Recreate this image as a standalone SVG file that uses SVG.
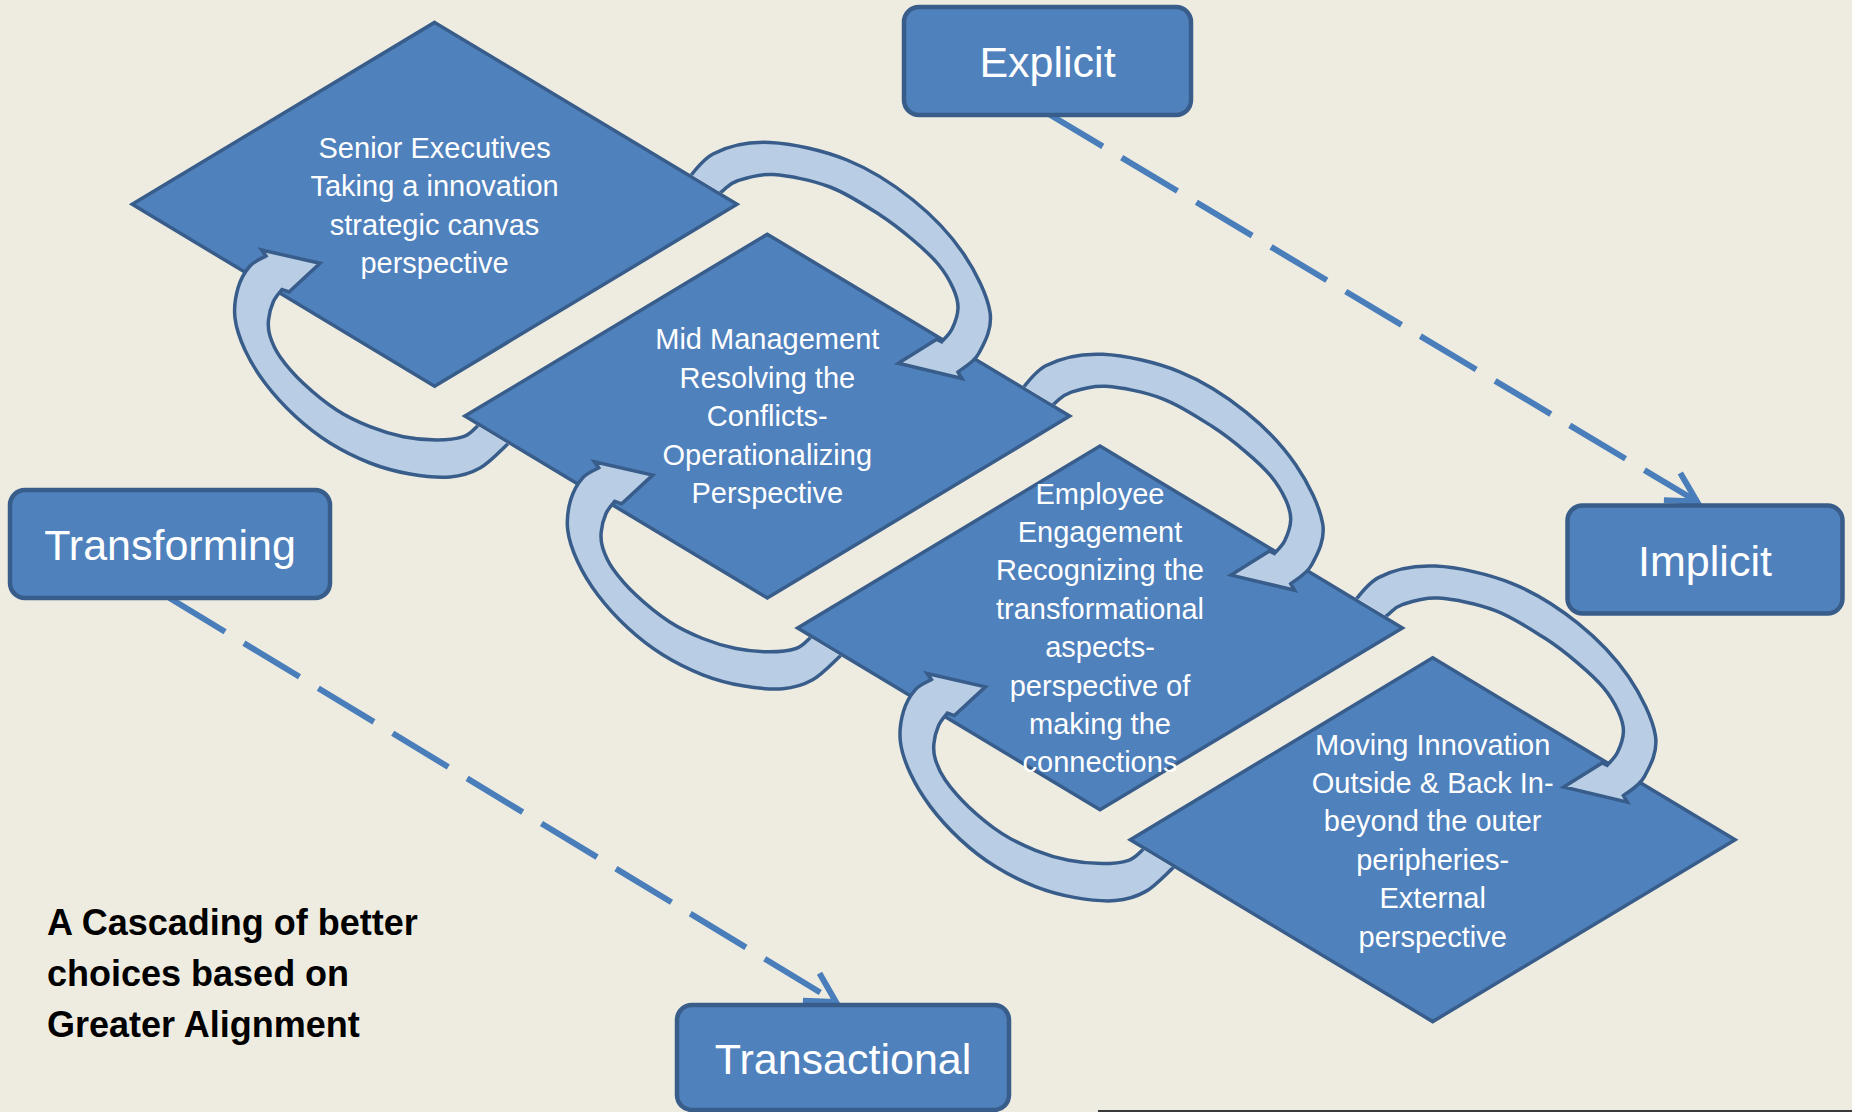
<svg xmlns="http://www.w3.org/2000/svg" xmlns:xlink="http://www.w3.org/1999/xlink" width="1852" height="1112" viewBox="0 0 1852 1112">
<style>
.dia{fill:#4F81BD;stroke:#385D8A;stroke-width:3.5;stroke-linejoin:miter}
.box{fill:#4F81BD;stroke:#385D8A;stroke-width:4.5}
.arc{fill:#B9CDE5;stroke:#385D8A;stroke-width:3.5;stroke-linejoin:miter}
.dash{fill:none;stroke:#4A7EBB;stroke-width:6;stroke-dasharray:65 22}
.dt{font-family:"Liberation Sans",Arial,sans-serif;font-size:29px;fill:#fff;text-anchor:middle}
.bt{font-family:"Liberation Sans",Arial,sans-serif;font-size:43px;fill:#fff;text-anchor:middle}
.note{font-family:"Liberation Sans",Arial,sans-serif;font-size:36px;font-weight:bold;fill:#000}
</style>
<defs>
<marker id="openArrow" markerUnits="userSpaceOnUse" viewBox="-40 -25 50 50" markerWidth="50" markerHeight="50" refX="0" refY="0" orient="auto" overflow="visible">
<path d="M-29,-16 L0,0 L-29,16" fill="none" stroke="#4A7EBB" stroke-width="6" stroke-dasharray="none"/>
</marker>
<path id="arcA" class="arc" d="M680,190 C685.5,184 698,161.9 713,154 C728,146.1 747.7,141.5 770,142.5 C792.3,143.5 823.2,150.4 847,160 C870.8,169.6 893.7,184.5 913,200 C932.3,215.5 950.2,234.3 963,253 C975.8,271.7 987.3,295.3 990,312 C992.7,328.7 984.3,343 979,353 C973.7,363 961.5,368.8 958,372 L962,378.5 L898.3,363.3 L936.7,339.3 L941.7,341.7 C943.4,339.6 949.3,334.6 952,329 C954.7,323.4 957.8,314.8 958,308 C958.2,301.2 956.3,295.3 953,288 C949.7,280.7 944.7,272 938,264 C931.3,256 922.7,248.2 913,240 C903.3,231.8 893.8,223.8 880,215 C866.2,206.2 847.8,193.75 830,187 C812.2,180.25 788.5,175.5 773,174.5 C757.5,173.5 745.5,178.2 737,181 C728.5,183.8 727.3,187.5 722,191.5 C716.7,195.5 707.8,202.75 705,205 Z"/>
<path id="arcB" class="arc" d="M520,431 C517.8,433.3 513.4,438.8 506.7,445 C500,451.2 489.5,462.7 480,468 C470.6,473.3 461.7,476 450,477 C438.3,478 423.3,476.3 410,474 C396.7,471.7 383.3,468.2 370,463 C356.7,457.8 342.5,450.8 330,443 C317.5,435.2 305.8,426 295,416 C284.2,406 273.3,394 265,383 C256.7,372 250,360.8 245,350 C240,339.2 236.2,328.3 235,318 C233.8,307.7 235.5,296.7 238,288 C240.5,279.3 245.3,271.3 250,266 C254.7,260.7 263.3,257.7 266,256 L261.7,250 L320,263.3 L289,292 L282,289.5 C280.55,291.5 275.55,296.6 273.3,301.7 C271.05,306.8 269.05,314.3 268.5,320 C267.95,325.7 268.1,329.9 270,336 C271.9,342.1 274.45,348.8 280,356.7 C285.55,364.6 293.85,374.4 303.3,383.3 C312.75,392.2 325.6,402.8 336.7,410 C347.8,417.2 358.9,422.25 370,426.7 C381.1,431.15 392.2,434.5 403.3,436.7 C414.4,438.9 426.7,440 436.7,440 C446.7,440 456.6,438.9 463.3,436.7 C470,434.5 472.25,430.8 476.7,426.7 C481.15,422.6 487.8,414.45 490,412 Z"/>
<mask id="mD1" maskUnits="userSpaceOnUse" x="0" y="0" width="1852" height="1112">
<rect width="1852" height="1112" fill="#fff"/>
<polygon points="434.6,22.4 737,204.3 434.6,386.2 132.2,204.3" fill="#000" stroke="#000" stroke-width="3.5"/>
</mask>
<mask id="mD2" maskUnits="userSpaceOnUse" x="0" y="0" width="1852" height="1112">
<rect width="1852" height="1112" fill="#fff"/>
<polygon points="767.3,234.2 1069.7,416.1 767.3,598 464.9,416.1" fill="#000" stroke="#000" stroke-width="3.5"/>
</mask>
<mask id="mD3" maskUnits="userSpaceOnUse" x="0" y="0" width="1852" height="1112">
<rect width="1852" height="1112" fill="#fff"/>
<polygon points="1100,446 1402.4,627.9 1100,809.8 797.6,627.9" fill="#000" stroke="#000" stroke-width="3.5"/>
</mask>
<mask id="mD4" maskUnits="userSpaceOnUse" x="0" y="0" width="1852" height="1112">
<rect width="1852" height="1112" fill="#fff"/>
<polygon points="1432.7,657.8 1735.1,839.7 1432.7,1021.6 1130.3,839.7" fill="#000" stroke="#000" stroke-width="3.5"/>
</mask>
</defs>
<rect width="1852" height="1112" fill="#EEECE1"/>
<line x1="1098" y1="1111" x2="1852" y2="1111" stroke="#3A3A3A" stroke-width="2"/>

<g id="node-senior">
<polygon class="dia" points="434.6,22.4 737,204.3 434.6,386.2 132.2,204.3"/>
</g>
<g id="node-mid">
<polygon class="dia" points="767.3,234.2 1069.7,416.1 767.3,598 464.9,416.1"/>
</g>
<g id="node-employee">
<polygon class="dia" points="1100,446 1402.4,627.9 1100,809.8 797.6,627.9"/>
</g>
<g id="node-moving">
<polygon class="dia" points="1432.7,657.8 1735.1,839.7 1432.7,1021.6 1130.3,839.7"/>
</g>

<g id="connectors">
<g mask="url(#mD1)"><use xlink:href="#arcA" href="#arcA"/></g>
<g mask="url(#mD2)"><use xlink:href="#arcA" href="#arcA" transform="translate(332.7,211.8)"/></g>
<g mask="url(#mD3)"><use xlink:href="#arcA" href="#arcA" transform="translate(665.4,423.6)"/></g>
<g mask="url(#mD2)"><use xlink:href="#arcB" href="#arcB"/></g>
<g mask="url(#mD3)"><use xlink:href="#arcB" href="#arcB" transform="translate(332.7,211.8)"/></g>
<g mask="url(#mD4)"><use xlink:href="#arcB" href="#arcB" transform="translate(665.4,423.6)"/></g>
<path class="dash" d="M1047,113 L1697,501.5" marker-end="url(#openArrow)"/>
<path class="dash" d="M169.5,598 L836,1002" marker-end="url(#openArrow)"/>
</g>

<g id="label-senior">
<text class="dt" x="434.6" y="157.8">Senior Executives</text>
<text class="dt" x="434.6" y="196.2">Taking a innovation</text>
<text class="dt" x="434.6" y="234.6">strategic canvas</text>
<text class="dt" x="434.6" y="273">perspective</text>
</g>
<g id="label-mid">
<text class="dt" x="767.3" y="349.3">Mid Management</text>
<text class="dt" x="767.3" y="387.7">Resolving the</text>
<text class="dt" x="767.3" y="426.1">Conflicts-</text>
<text class="dt" x="767.3" y="464.5">Operationalizing</text>
<text class="dt" x="767.3" y="502.9">Perspective</text>
</g>
<g id="label-employee">
<text class="dt" x="1100" y="503.5">Employee</text>
<text class="dt" x="1100" y="541.9">Engagement</text>
<text class="dt" x="1100" y="580.3">Recognizing the</text>
<text class="dt" x="1100" y="618.7">transformational</text>
<text class="dt" x="1100" y="657.1">aspects-</text>
<text class="dt" x="1100" y="695.5">perspective of</text>
<text class="dt" x="1100" y="733.9">making the</text>
<text class="dt" x="1100" y="772.3">connections</text>
</g>
<g id="label-moving">
<text class="dt" x="1432.7" y="754.6">Moving Innovation</text>
<text class="dt" x="1432.7" y="793">Outside &amp; Back In-</text>
<text class="dt" x="1432.7" y="831.4">beyond the outer</text>
<text class="dt" x="1432.7" y="869.8">peripheries-</text>
<text class="dt" x="1432.7" y="908.2">External</text>
<text class="dt" x="1432.7" y="946.6">perspective</text>
</g>

<g id="node-explicit">
<rect class="box" x="904" y="7" width="287" height="108" rx="15"/>
<text class="bt" x="1047.5" y="77">Explicit</text>
</g>
<g id="node-implicit">
<rect class="box" x="1567.5" y="505.5" width="275" height="108" rx="15"/>
<text class="bt" x="1705" y="576">Implicit</text>
</g>
<g id="node-transforming">
<rect class="box" x="10" y="490" width="320" height="108" rx="15"/>
<text class="bt" x="170" y="560">Transforming</text>
</g>
<g id="node-transactional">
<rect class="box" x="677" y="1005" width="332" height="105" rx="15"/>
<text class="bt" x="843" y="1073.5">Transactional</text>
</g>

<g id="caption">
<text class="note" x="47" y="934.7">A Cascading of better</text>
<text class="note" x="47" y="985.5">choices based on</text>
<text class="note" x="47" y="1036.5">Greater Alignment</text>
</g>
</svg>
